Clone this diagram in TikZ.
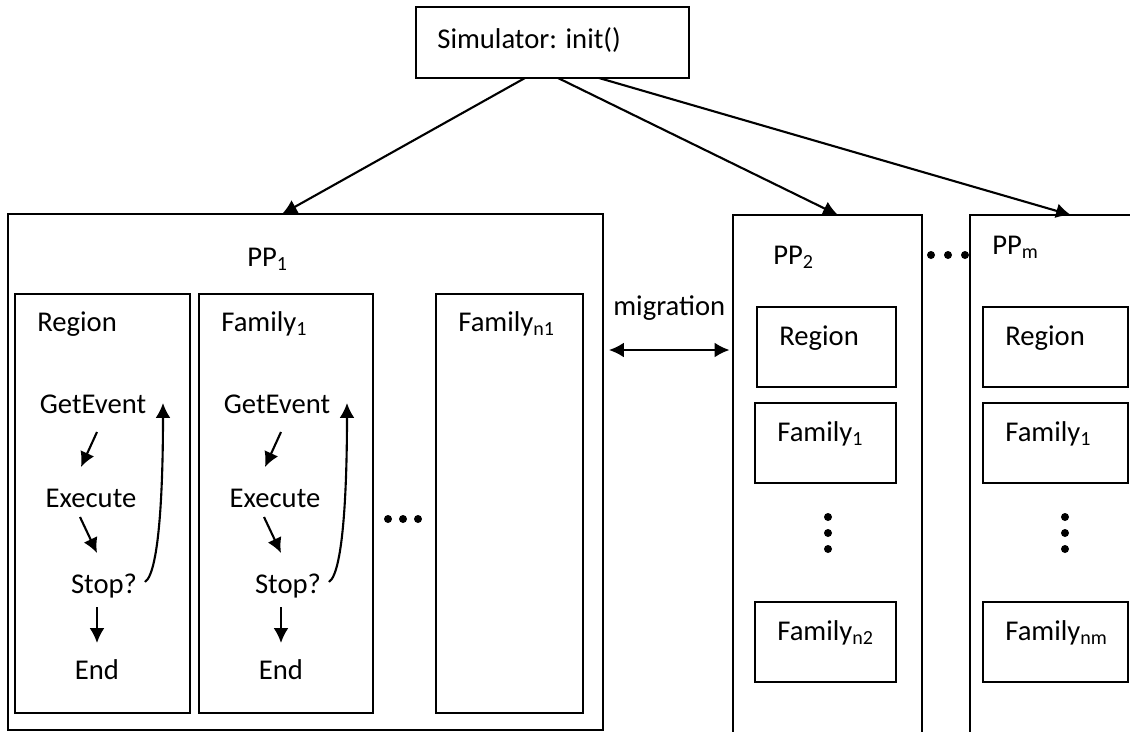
\documentclass[tikz,border=0pt]{standalone}
\usepackage{fontspec}
\setmainfont{Carlito}
\usepackage{tikz}
\usetikzlibrary{arrows.meta, positioning, calc}

\begin{document}
\begin{tikzpicture}[x=0.02cm, y=-0.02cm, >={Latex[length=8.5pt,width=8.5pt]},
    frame/.style={draw, line width=1.1pt, inner sep=0, outer sep=0},
    txt/.style={inner sep=0, anchor=base west, font=\fontsize{16.3}{19.6}\selectfont},
    flow/.style={txt, anchor=base},
    link/.style={->, line width=1.2pt}]
    \useasboundingbox (0,0) rectangle (1130,731);
    \clip (0,0) rectangle (1130,731);

    % simulator and the processing units
    \node(sim)[frame, minimum width=5.46cm, minimum height=1.42cm] at (552.5,42.5) {};
    \node(sim-txt)[txt] at (437,48) {Simulator: init()};
    \node(pp1)[frame, minimum width=11.9cm, minimum height=10.32cm] at (305.5,472) {};
    \node(pp2)[frame, minimum width=3.78cm, minimum height=10.9cm] at (827.5,487.5) {};
    \node(ppm)[frame, minimum width=4cm, minimum height=10.9cm] at (1070,487.5) {};
    \node(pp1-txt)[txt] at (247,266) {PP\textsubscript{1}};
    \node(pp2-txt)[txt] at (773,264) {PP\textsubscript{2}};
    \node(ppm-txt)[txt] at (992,254) {PP\textsubscript{m}};

    \draw[link] ([xshift=-0.55cm]sim.south) -- ([xshift=-0.47cm]pp1.north);
    \draw[link] ([xshift=0.11cm]sim.south) -- ([xshift=0.21cm]pp2.north);
    \draw[link] ([xshift=0.93cm]sim.south) -- ([xshift=0.02cm]ppm.north);

    % inside PP1
    \node(reg1)[frame, minimum width=3.5cm, minimum height=8.38cm] at (102.5,503.5) {};
    \node(fam1)[frame, minimum width=3.48cm, minimum height=8.38cm] at (286,503.5) {};
    \node(famn1)[frame, minimum width=2.94cm, minimum height=8.38cm] at (509.5,503.5) {};
    \node(reg1-txt)[txt] at (37,331) {Region};
    \node(fam1-txt)[txt] at (221,331) {Family\textsubscript{1}};
    \node(famn1-txt)[txt] at (458,331) {Family\textsubscript{n1}};

    \foreach \c/\dx in {reg/0, fam/184} {
        \node(get-\c)[flow] at (93+\dx,413) {GetEvent};
        \node(exec-\c)[flow] at (91+\dx,507) {Execute};
        \node(stop-\c)[flow] at (104+\dx,593) {Stop?};
        \node(end-\c)[flow] at (97+\dx,679) {End};
        \draw[link] ($(get-\c.base)+(4,19)$) -- ($(exec-\c.base)+(-10,-40)$);
        \draw[link] ($(exec-\c.base)+(-11,10)$) -- ($(stop-\c.base)+(-7,-40)$);
        \draw[link] ($(stop-\c.base)+(-7,14)$) -- ($(end-\c.base)+(0,-36)$);
        \draw[link] ($(stop-\c.base)+(41,-11)$) .. controls +(15,-10) and +(0,77)
            .. ($(get-\c.base)+(70,-10)$);
    }
    \foreach \x in {388,403,418} \fill (\x,519) circle (0.08cm);

    % migration between units
    \node(mig-txt)[txt] at (613,315) {migration};
    \coordinate (mig) at (670,350);
    \draw[<->, line width=1.2pt, shorten <=0.12cm, shorten >=0.07cm] (mig -| pp1.east) -- (mig -| pp2.west);
    \foreach \x in {931,948,965} \fill (\x,255) circle (0.08cm);

    % inside PP2 and PPm
    \node(reg2)[frame, minimum width=2.78cm, minimum height=1.6cm] at (826.5,347) {};
    \node(fam2)[frame, minimum width=2.82cm, minimum height=1.6cm] at (825.5,443) {};
    \node(famn2)[frame, minimum width=2.82cm, minimum height=1.6cm] at (825.5,642) {};
    \node(regm)[frame, minimum width=2.9cm, minimum height=1.6cm] at (1055.5,347) {};
    \node(famm)[frame, minimum width=2.9cm, minimum height=1.6cm] at (1055.5,443) {};
    \node(famnm)[frame, minimum width=2.9cm, minimum height=1.6cm] at (1055.5,642) {};
    \node(reg2-txt)[txt] at (779,345) {Region};
    \node(fam2-txt)[txt] at (777,441) {Family\textsubscript{1}};
    \node(famn2-txt)[txt] at (777,640) {Family\textsubscript{n2}};
    \node(regm-txt)[txt] at (1005,345) {Region};
    \node(famm-txt)[txt] at (1005,441) {Family\textsubscript{1}};
    \node(famnm-txt)[txt] at (1005,640) {Family\textsubscript{nm}};
    \foreach \y in {517,533,549} {
        \fill (828,\y) circle (0.08cm);
        \fill (1065,\y) circle (0.08cm);
    }
\end{tikzpicture}
\end{document}
